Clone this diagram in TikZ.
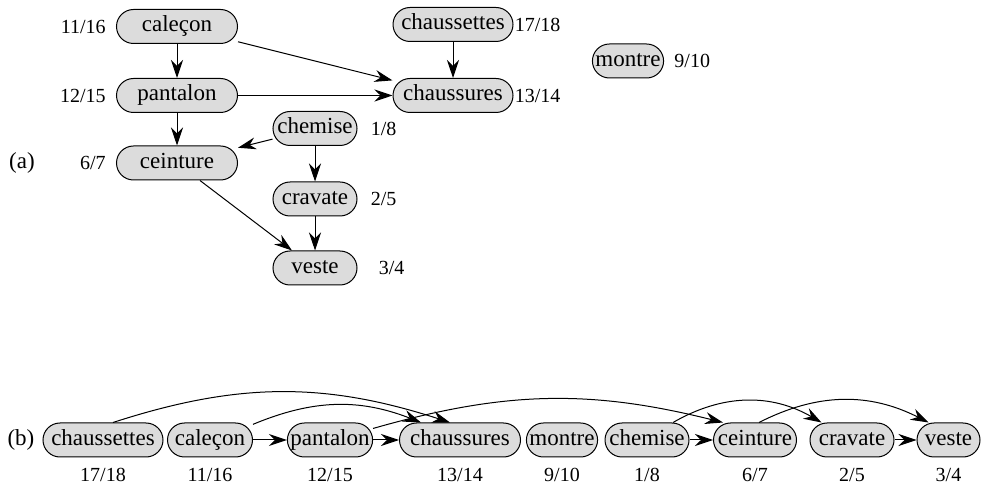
\documentclass[tikz,border=0pt]{standalone}
\usepackage{fontspec}
\setmainfont{Liberation Serif}
\usetikzlibrary{arrows.meta,positioning}
\definecolor{ItemGray}{HTML}{DCDCDC}
\newcommand{\itemsize}{\rmfamily\fontsize{11.5}{13}\selectfont}
\newcommand{\numsize}{\rmfamily\fontsize{10}{12}\selectfont}

\begin{document}
\begin{tikzpicture}[
  x=0.5pt, y=-0.5pt,
  item/.style={draw, fill=ItemGray, line width=0.5pt, rounded corners=8.5pt,
               minimum height=17pt, inner xsep=1.5pt, inner ysep=0pt,
               text height=8pt, text depth=2.5pt, font=\itemsize},
  wide/.style={item, minimum width=60.5pt},
  mid/.style={item, minimum width=42pt},
  num/.style={inner sep=0pt, font=\numsize},
  edge/.style={-{Stealth[length=9pt,width=6pt,inset=3pt]}, line width=0.5pt},
  node distance=5pt
]
  \useasboundingbox (0,0) rectangle (981,486);

  %% (a) the graph
  \node[font=\itemsize] (taga) at (22,163) {(a)};
  \node[wide] (cal)  at (177,26.5)  {caleçon};
  \node[wide] (pan)  at (177,95.5)  {pantalon};
  \node[wide] (cein) at (177,163)   {ceinture};
  \node[mid]  (chem) at (315,128.5) {chemise};
  \node[mid]  (crav) at (315,199)   {cravate};
  \node[mid]  (ves)  at (315,268)   {veste};
  \node[item, minimum width=60pt] (chst) at (453,24.5) {chaussettes};
  \node[item, minimum width=60pt] (chsr) at (453,95.5) {chaussures};
  \node[item] (mon)  at (628,61)    {montre};

  %% times next to each item
  \node[num, left=of cal]        {11/16};
  \node[num, left=of pan]        {12/15};
  \node[num, left=of cein]       {6/7};
  \node[num, right=6.5pt of chem] {1/8};
  \node[num, right=6.5pt of crav] {2/5};
  \node[num, right=10.5pt of ves] {3/4};
  \node[num, right=0.5pt of chst] {17/18};
  \node[num, right=0.5pt of chsr] {13/14};
  \node[num, right=of mon]       {9/10};

  \draw[edge] (cal) -- (pan);
  \draw[edge] (cal) -- (chsr);
  \draw[edge] (pan) -- (chsr);
  \draw[edge] (pan) -- (cein);
  \draw[edge] (chem) -- (cein);
  \draw[edge] (chem) -- (crav);
  \draw[edge] (crav) -- (ves);
  \draw[edge] (cein) -- (ves);
  \draw[edge] (chst) -- (chsr);

  %% (b) topological order
  \node[font=\itemsize] (tagb) at (21,440) {(b)};
  \node[item, minimum width=60pt]   (chst2) at (103,440)   {chaussettes};
  \node[item, minimum width=42.5pt] (cal2)  at (210,440)   {caleçon};
  \node[item, minimum width=42.5pt] (pan2)  at (330,440)   {pantalon};
  \node[item, minimum width=60.5pt] (chsr2) at (460,440)   {chaussures};
  \node[item, minimum width=34.5pt] (mon2)  at (562,440)   {montre};
  \node[item, minimum width=42pt]   (chem2) at (647,440)   {chemise};
  \node[item, minimum width=41.5pt] (cein2) at (755,440)   {ceinture};
  \node[item, minimum width=42pt]   (crav2) at (852,440)   {cravate};
  \node[item, minimum width=31.5pt] (ves2)  at (948.5,440) {veste};

  \node[num, below=of chst2] {17/18};
  \node[num, below=of cal2]  {11/16};
  \node[num, below=of pan2]  {12/15};
  \node[num, below=of chsr2] {13/14};
  \node[num, below=of mon2]  {9/10};
  \node[num, below=of chem2] {1/8};
  \node[num, below=of cein2] {6/7};
  \node[num, below=of crav2] {2/5};
  \node[num, below=of ves2]  {3/4};

  \draw[edge] (cal2) -- (pan2);
  \draw[edge] (pan2) -- (chsr2);
  \draw[edge] (chem2) -- (cein2);
  \draw[edge] (crav2) -- (ves2);
  \draw[edge] ([xshift=5pt]chst2.north) to[bend left=18] ([xshift=-5pt]chsr2.north);
  \draw[edge] (cal2.20) to[bend left=22] ([xshift=11pt]chsr2.north west);
  \draw[edge] (pan2.15) to[bend left=15] ([xshift=5pt]cein2.north west);
  \draw[edge] ([xshift=13pt]chem2.north) to[bend left=30] ([xshift=6pt]crav2.north west);
  \draw[edge] ([xshift=2pt]cein2.north) to[bend left=27] ([xshift=-10pt]ves2.north);
\end{tikzpicture}
\end{document}
